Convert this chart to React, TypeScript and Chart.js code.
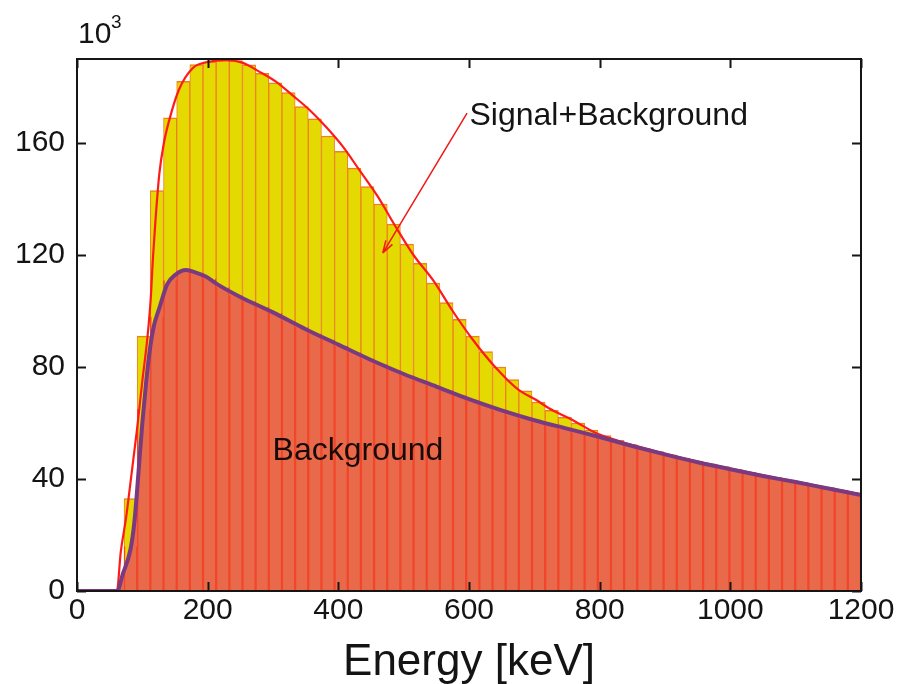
import React, { useEffect, useRef } from "react";
import { Chart, registerables } from "chart.js";

Chart.register(...registerables);

// ---- axis ticks ----
const X_TICKS = [0, 200, 400, 600, 800, 1000, 1200];
const Y_TICKS = [0, 40, 80, 120, 160];
const Y_MAX = 190;

// ---- histogram bins (keV) ----
const BIN_EDGE_LOW = 72;
const BIN_EDGE_HIGH = 1200;

// Signal+Background histogram (x10^3 counts per bin)
const SIGNAL_BG_BARS = [
  33, 91, 143, 169, 182, 188, 189, 189.6, 189.4, 187.9,
  184.9, 181.5, 178, 173, 168.6, 162.5, 157, 151, 144.4, 138.2,
  131, 123.9, 117, 110, 103, 97, 91, 85.5, 80, 75.5,
  71.5, 67.5, 64.5, 62, 60, 57.5, 55.5, 53.8, 52.3, 50.9,
  49.8, 48.6, 47.5, 46.4, 45.4, 44.4, 43.4, 42.4, 41.4, 40.5,
  39.6, 38.7, 37.8, 36.9, 36, 35.1,
];

// Background histogram (x10^3 counts per bin)
const BACKGROUND_BARS = [
  16, 65, 98, 111, 114.5, 113.7, 111.5, 108.5, 105.5, 103.5,
  101.5, 99.3, 96.5, 94.2, 92, 89.8, 87.5, 85.3, 83, 81,
  79, 77, 75, 73.4, 71.7, 69.8, 68, 66.2, 64.4, 62.8,
  61.4, 60.1, 58.9, 57.7, 56.6, 55.6, 54.5, 53.2, 51.9, 50.6,
  49.5, 48.3, 47.2, 46.1, 45.1, 44.1, 43.1, 42.1, 41.1, 40.2,
  39.3, 38.4, 37.5, 36.6, 35.7, 34.8,
];

// Signal+Background fitted curve
const SB_CURVE_E = [
  0, 61, 67, 75, 82, 92, 100, 108, 113, 116,
  120, 126, 133, 141, 156, 177, 202, 228, 253, 279,
  304, 330, 356, 381, 407, 432, 460, 488, 515, 545,
  575, 605, 640, 675, 703, 723, 759, 795, 830, 850,
  900, 950, 1000, 1050, 1100, 1150, 1200,
];
const SB_CURVE_V = [
  0, 0, 14, 26, 39, 58, 75, 91, 105, 118,
  132, 149, 160, 168, 179, 186.7, 189, 189.6, 188.7, 185.5,
  182, 177, 171.8, 165.8, 158.7, 150.4, 141, 130, 120, 111,
  100, 90, 80, 72, 68.2, 65.2, 61, 56.3, 53.5, 52.1,
  49, 46.2, 43.7, 41.3, 39.1, 36.8, 34.5,
];

// Background fitted curve
const BG_CURVE_E = [
  0, 61.5, 70, 82, 88, 95, 100, 106, 112, 118,
  126, 138, 151, 167, 182, 197, 215, 250, 300, 350,
  400, 450, 500, 550, 600, 650, 700, 750, 800, 850,
  900, 950, 1000, 1050, 1100, 1150, 1200,
];
const BG_CURVE_V = [
  0, 0, 6, 15, 25, 45, 60, 75, 87, 95,
  101, 109.5, 113, 114.6, 113.7, 112.3, 109.5, 105, 99.5, 93.5,
  88, 82.5, 77.5, 73, 68.5, 64.5, 61, 58, 55, 51.8,
  48.8, 46, 43.5, 41.1, 38.9, 36.6, 34.3,
];

// ---- texts ----
const X_TITLE = "Energy [keV]";
const SB_LABEL = "Signal+Background";
const BG_LABEL = "Background";
const SCALE_BASE = "10";
const SCALE_EXP = "3";

const FONT = '"Liberation Sans", Arial, Helvetica, sans-serif';

export default function App() {
  const ref = useRef<HTMLCanvasElement>(null);

  useEffect(() => {
    document.body.style.margin = "0";
    const canvas = ref.current;
    if (!canvas) return;

    const n = SIGNAL_BG_BARS.length;
    const w = (BIN_EDGE_HIGH - BIN_EDGE_LOW) / n;
    const centers = SIGNAL_BG_BARS.map((_, i) => BIN_EDGE_LOW + (i + 0.5) * w);

    const sbBars = SIGNAL_BG_BARS.map((v, i) => ({ x: centers[i], y: v }));
    const bgBars = BACKGROUND_BARS.map((v, i) => ({ x: centers[i], y: v }));
    const sbCurve = SB_CURVE_E.map((e, i) => ({ x: e, y: SB_CURVE_V[i] }));
    const bgCurve = BG_CURVE_E.map((e, i) => ({ x: e, y: BG_CURVE_V[i] }));

    const decor = {
      id: "decor",
      afterDatasetsDraw(chart: any) {
        const { ctx, chartArea: a, scales } = chart;
        const x = scales.x;
        const y = scales.y;
        ctx.save();
        // frame
        ctx.strokeStyle = "#151515";
        ctx.lineWidth = 2;
        ctx.strokeRect(a.left, a.top, a.right - a.left, a.bottom - a.top);
        // inward ticks
        ctx.beginPath();
        X_TICKS.forEach((v) => {
          const px = Math.round(x.getPixelForValue(v)) + 0.5;
          ctx.moveTo(px, a.bottom);
          ctx.lineTo(px, a.bottom - 9);
          ctx.moveTo(px, a.top);
          ctx.lineTo(px, a.top + 9);
        });
        Y_TICKS.forEach((v) => {
          const py = Math.round(y.getPixelForValue(v)) + 0.5;
          ctx.moveTo(a.left, py);
          ctx.lineTo(a.left + 9, py);
          ctx.moveTo(a.right, py);
          ctx.lineTo(a.right - 9, py);
        });
        ctx.stroke();

        // annotation texts
        ctx.fillStyle = "#141414";
        ctx.textAlign = "left";
        ctx.textBaseline = "alphabetic";
        ctx.font = `32px ${FONT}`;
        ctx.fillText(SB_LABEL, x.getPixelForValue(600.8), y.getPixelForValue(166.4));
        ctx.fillStyle = "#1a0a08";
        ctx.fillText(BG_LABEL, x.getPixelForValue(299.3), y.getPixelForValue(46.8));

        // arrow
        const x0 = x.getPixelForValue(597);
        const y0 = y.getPixelForValue(170.7);
        const x1 = x.getPixelForValue(468);
        const y1 = y.getPixelForValue(120.7);
        ctx.strokeStyle = "#f01818";
        ctx.lineWidth = 1.5;
        ctx.beginPath();
        ctx.moveTo(x0, y0);
        ctx.lineTo(x1, y1);
        const ang = Math.atan2(y1 - y0, x1 - x0);
        const hl = 13;
        const ha = 0.3;
        ctx.moveTo(x1, y1);
        ctx.lineTo(x1 - hl * Math.cos(ang - ha), y1 - hl * Math.sin(ang - ha));
        ctx.moveTo(x1, y1);
        ctx.lineTo(x1 - hl * Math.cos(ang + ha), y1 - hl * Math.sin(ang + ha));
        ctx.stroke();

        // 10^3 multiplier
        ctx.fillStyle = "#141414";
        ctx.font = `30px ${FONT}`;
        ctx.fillText(SCALE_BASE, a.left + 1, 43);
        ctx.font = `19px ${FONT}`;
        ctx.fillText(SCALE_EXP, a.left + 34, 28);

        // x axis title
        ctx.font = `44px ${FONT}`;
        ctx.textAlign = "center";
        ctx.fillText(X_TITLE, (a.left + a.right) / 2, 675);
        ctx.restore();
      },
    };

    const chart = new Chart(canvas, {
      type: "bar",
      data: {
        datasets: [
          {
            type: "bar",
            label: "S+B hist",
            data: sbBars as any,
            backgroundColor: "#e4d900",
            borderColor: "#f0801e",
            borderWidth: { left: 1, right: 1, top: 1.5, bottom: 0 } as any,
            borderSkipped: "start",
            barPercentage: 1,
            categoryPercentage: 1,
            grouped: false,
            order: 6,
          } as any,
          {
            type: "line",
            label: "BG area",
            data: bgCurve as any,
            borderWidth: 0,
            borderColor: "rgba(0,0,0,0)",
            backgroundColor: "#e96a4b",
            fill: "origin",
            pointRadius: 0,
            cubicInterpolationMode: "monotone",
            order: 5,
          } as any,
          {
            type: "bar",
            label: "BG hist",
            data: bgBars as any,
            backgroundColor: "rgba(0,0,0,0)",
            borderColor: "#f2452a",
            borderWidth: { left: 0.8, right: 0.8, top: 0, bottom: 0 } as any,
            borderSkipped: "start",
            barPercentage: 1,
            categoryPercentage: 1,
            grouped: false,
            order: 4,
          } as any,
          {
            type: "line",
            label: "S+B fit",
            data: sbCurve as any,
            borderColor: "#ff1a1a",
            borderWidth: 2.2,
            fill: false,
            pointRadius: 0,
            cubicInterpolationMode: "monotone",
            order: 3,
          } as any,
          {
            type: "line",
            label: "BG fit",
            data: bgCurve as any,
            borderColor: "#7a3a82",
            borderWidth: 4,
            fill: false,
            pointRadius: 0,
            cubicInterpolationMode: "monotone",
            order: 2,
          } as any,
        ],
      },
      options: {
        animation: false,
        responsive: false,
        devicePixelRatio: 1,
        layout: { padding: { left: 0, right: 40, top: 59, bottom: 0 } },
        plugins: {
          legend: { display: false },
          tooltip: { enabled: false },
          title: { display: false },
        },
        scales: {
          x: {
            type: "linear",
            min: 0,
            max: 1200,
            offset: false,
            grid: { display: false, drawTicks: false },
            border: { display: false },
            afterBuildTicks: (s: any) => {
              s.ticks = X_TICKS.map((v) => ({ value: v }));
            },
            afterFit: (s: any) => {
              s.height = 93;
            },
            ticks: {
              color: "#141414",
              font: { family: FONT, size: 30 },
              padding: 2,
              maxRotation: 0,
              autoSkip: false,
              callback: (v: any) => String(v),
            },
          },
          y: {
            type: "linear",
            min: 0,
            max: Y_MAX,
            grid: { display: false, drawTicks: false },
            border: { display: false },
            afterBuildTicks: (s: any) => {
              s.ticks = Y_TICKS.map((v) => ({ value: v }));
            },
            afterFit: (s: any) => {
              s.width = 77;
            },
            ticks: {
              color: "#141414",
              font: { family: FONT, size: 30 },
              padding: 12,
              autoSkip: false,
              callback: (v: any) => String(v),
            },
          },
        },
      },
      plugins: [decor],
    } as any);

    return () => chart.destroy();
  }, []);

  return (
    <div style={{ position: "absolute", left: 0, top: 0, width: 901, height: 684, background: "#fff" }}>
      <canvas ref={ref} width={901} height={684} style={{ width: 901, height: 684, display: "block" }} />
    </div>
  );
}
